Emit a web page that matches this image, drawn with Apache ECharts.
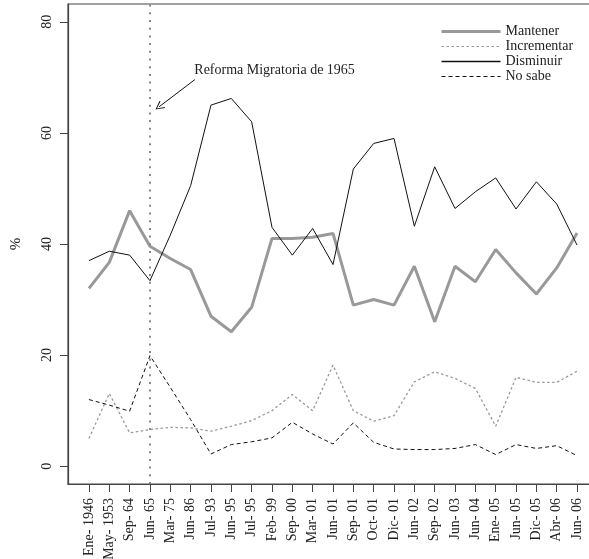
<!DOCTYPE html>
<html>
<head>
<meta charset="utf-8">
<script src="https://cdn.jsdelivr.net/npm/echarts@6/dist/echarts.min.js"></script>
<style>
html,body{margin:0;padding:0;background:#fff;}
#c{width:589px;height:559px;}
</style>
</head>
<body>
<div id="c"></div>
<script>
const categories = ['Ene- 1946','May- 1953','Sep- 64','Jun- 65','Mar- 75','Jun- 86','Jul- 93','Jun- 95','Jul- 95','Feb- 99','Sep- 00','Mar- 01','Jun- 01','Sep- 01','Oct- 01','Dic- 01','Jun- 02','Sep- 02','Jun- 03','Jun- 04','Ene- 05','Jun- 05','Dic- 05','Abr- 06','Jun- 06'];
const mantener   = [32, 36.7, 46, 39.6, 37.4, 35.4, 27, 24.2, 28.6, 41, 41, 41.2, 41.9, 29, 30, 29, 36, 26, 36, 33.2, 39, 34.8, 31, 35.7, 42];
const incrementar = [5, 13.1, 6, 6.6, 7, 6.9, 6.3, 7.2, 8.2, 10, 12.9, 10, 18.2, 10, 8.1, 9.1, 15.2, 17, 15.8, 14, 7.2, 16, 15.1, 15.1, 17.1];
const disminuir  = [37, 38.7, 38, 33.4, 41.6, 50.5, 65, 66.2, 62, 43, 38, 42.8, 36.3, 53.5, 58.1, 59, 43.2, 53.9, 46.4, 49.4, 51.9, 46.3, 51.2, 47.2, 39.8];
const noSabe     = [12, 11, 9.9, 19.9, 14.2, 8.4, 2.2, 3.9, 4.4, 5.1, 7.9, 5.8, 4, 7.8, 4.3, 3.1, 3, 3, 3.2, 3.9, 2.1, 3.9, 3.2, 3.7, 1.9];
const yTicks = [0, 20, 40, 60, 80];
const seriesNames = ['Mantener', 'Incrementar', 'Disminuir', 'No sabe'];
const reformText = 'Reforma Migratoria de 1965';
const reformCategory = 'Jun- 65';
const annotTextAt = [5.18, 71.2];
const arrowFrom = [5.21, 69.6];
const arrowTo = [3.45, 64.7];

const FONT = 'Liberation Serif';
const toXY = arr => arr.map((v, i) => [i, v]);
const xIdx = categories.map((c, i) => i);
const legendWidths = [3, 1.2, 1.6, 1];

const chart = echarts.init(document.getElementById('c'), null, {renderer: 'canvas'});
const option = {
  animation: false,
  backgroundColor: '#fff',
  textStyle: {fontFamily: FONT, color: '#222'},
  grid: {left: 68, top: 4, width: 530, height: 480, outerBoundsMode: 'none', containLabel: false,
         show: true, borderColor: '#444', borderWidth: 1.2, backgroundColor: 'transparent'},
  legend: {
    orient: 'vertical', left: 435, top: 19,
    itemWidth: 59, itemHeight: 13, itemGap: 0,
    itemStyle: {opacity: 0},
    textStyle: {fontFamily: FONT, fontSize: 14, lineHeight: 15, color: '#222'},
    data: seriesNames.map((n, i) => ({name: n, lineStyle: {width: legendWidths[i]}}))
  },
  xAxis: {
    type: 'value', min: -1.03, max: 25.03,
    splitLine: {show: false},
    axisLine: {show: true, onZero: false, lineStyle: {color: '#444', width: 1.2}},
    axisTick: {show: true, length: 8, customValues: xIdx, lineStyle: {color: '#444', width: 1}},
    axisLabel: {
      customValues: xIdx, rotate: 90, margin: 14,
      fontFamily: FONT, fontSize: 14, color: '#222',
      formatter: v => categories[Math.round(v)]
    }
  },
  yAxis: {
    type: 'value', min: -3.2, max: 83.2,
    name: '%', nameLocation: 'middle', nameGap: 44, nameRotate: 90,
    nameTextStyle: {fontFamily: FONT, fontSize: 15, color: '#222'},
    splitLine: {show: false},
    axisLine: {show: true, onZero: false, lineStyle: {color: '#444', width: 1.2}},
    axisTick: {show: true, length: 8, customValues: yTicks, lineStyle: {color: '#444', width: 1}},
    axisLabel: {customValues: yTicks, rotate: 90, margin: 14, fontFamily: FONT, fontSize: 14, color: '#222'}
  },
  series: [
    {
      name: seriesNames[0], type: 'line', data: toXY(mantener), symbol: 'none',
      lineStyle: {color: '#999', width: 3}, itemStyle: {color: '#999'}, z: 2,
      markLine: {
        silent: true, symbol: 'none', animation: false,
        label: {show: false},
        lineStyle: {color: '#888', width: 2, type: [2, 5.7]},
        data: [{xAxis: categories.indexOf(reformCategory)}]
      }
    },
    {
      name: seriesNames[1], type: 'line', data: toXY(incrementar), symbol: 'none',
      lineStyle: {color: '#999', width: 1.3, type: [2.5, 2.5]}, itemStyle: {color: '#999'}, z: 3,
      markPoint: {
        silent: true, symbol: 'circle', symbolSize: 0,
        label: {show: true, position: 'right', distance: 0, formatter: reformText, fontFamily: FONT, fontSize: 14, color: '#222'},
        data: [{coord: annotTextAt}]
      }
    },
    {
      name: seriesNames[2], type: 'line', data: toXY(disminuir), symbol: 'none',
      lineStyle: {color: '#111', width: 1}, itemStyle: {color: '#111'}, z: 4,
      markLine: {
        silent: true, animation: false,
        symbol: ['none', 'path://M5,0 L10,10 L9,10.8 L5,2.2 L1,10.8 L0,10 Z'],
        symbolSize: [9, 9],
        label: {show: false},
        lineStyle: {color: '#111', width: 1, type: 'solid'},
        data: [[{coord: arrowFrom}, {coord: arrowTo}]]
      }
    },
    {
      name: seriesNames[3], type: 'line', data: toXY(noSabe), symbol: 'none',
      lineStyle: {color: '#111', width: 1, type: [4, 3]}, itemStyle: {color: '#111'}, z: 5
    }
  ]
};
chart.setOption(option);
</script>
</body>
</html>
